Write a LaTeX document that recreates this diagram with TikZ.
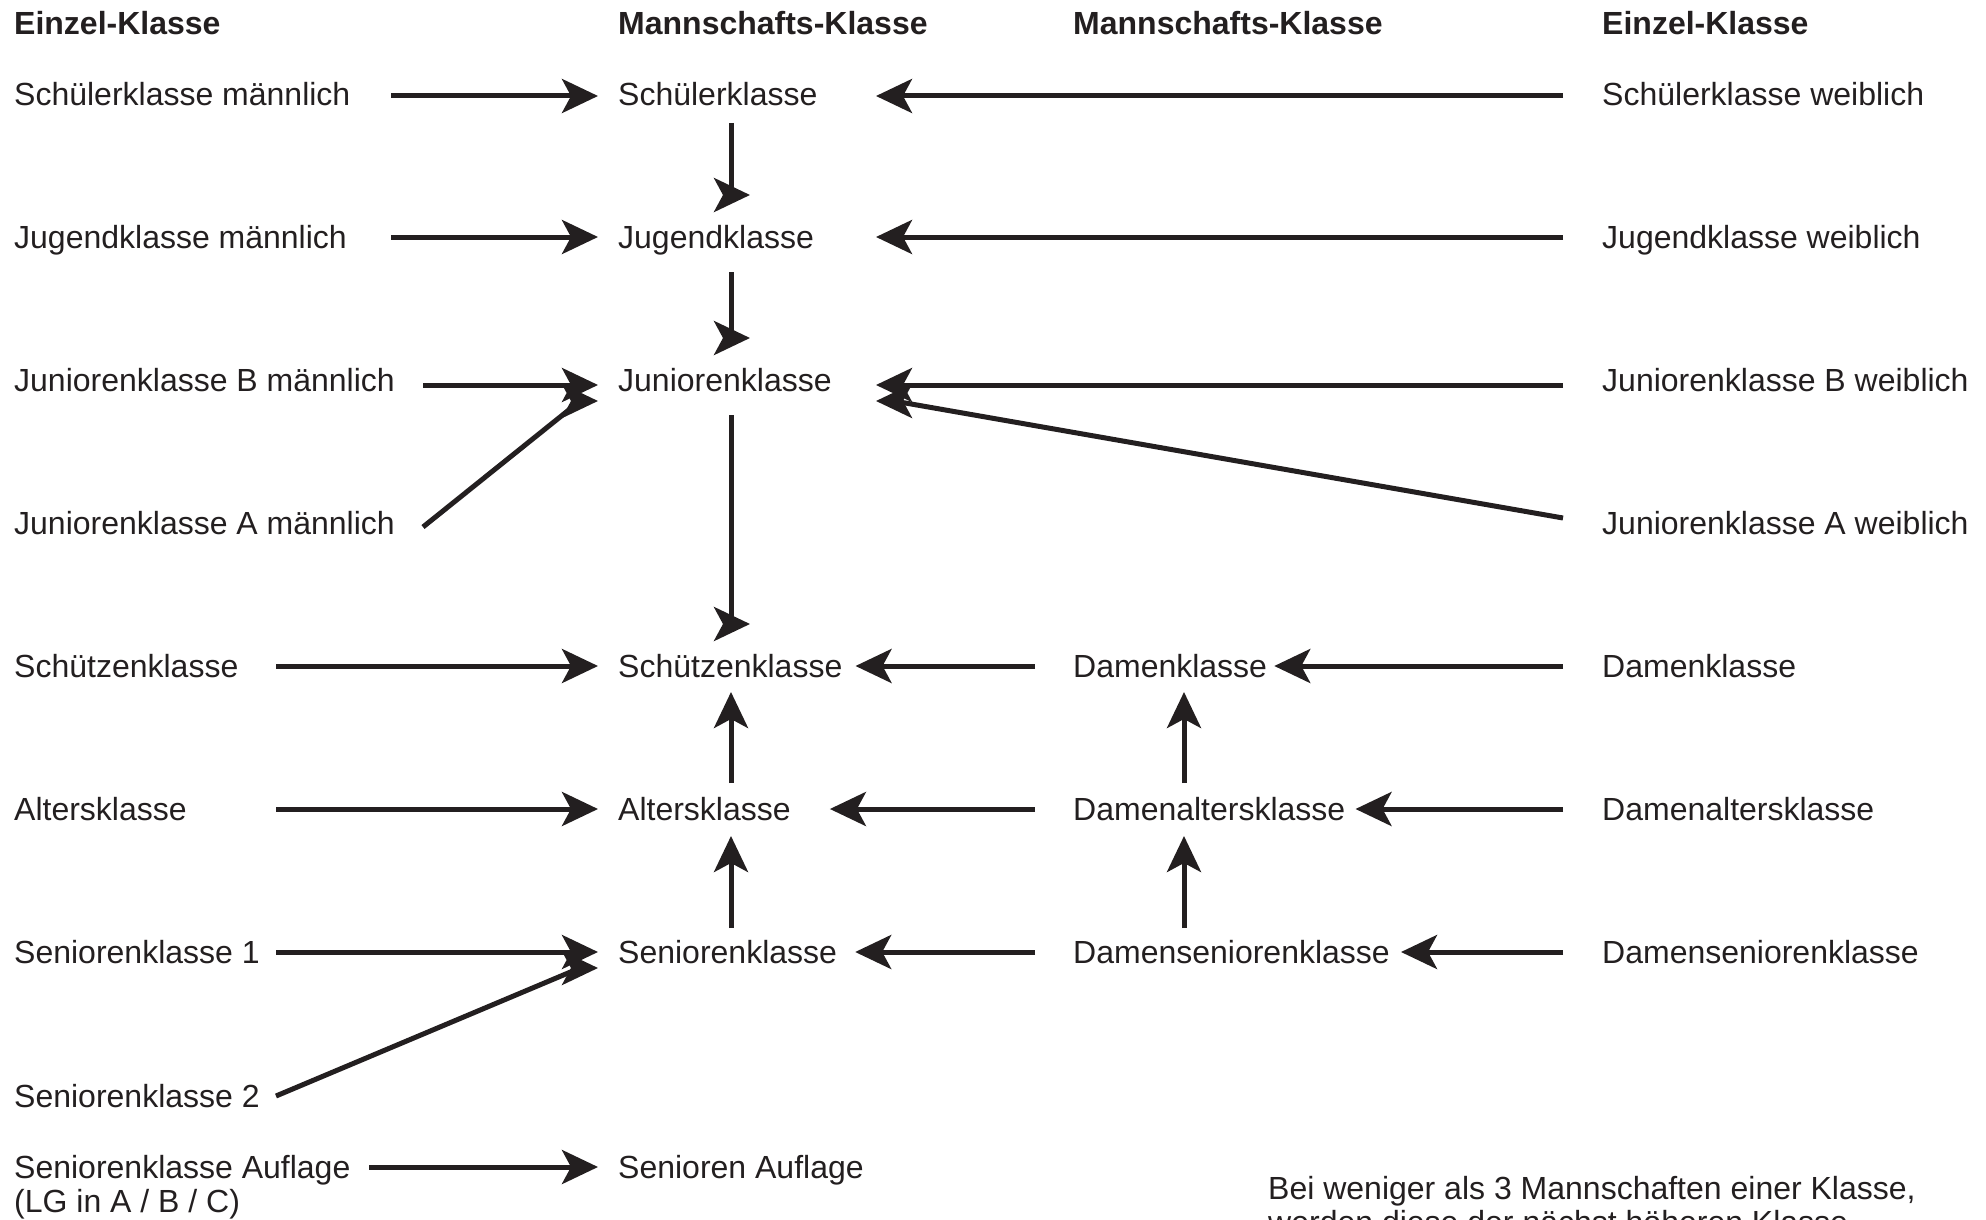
\documentclass[tikz,border=0pt]{standalone}
\usepackage{fontspec}
\setmainfont{Liberation Sans}
\usetikzlibrary{arrows.meta}
\definecolor{ink}{RGB}{35,31,32}

\begin{document}
\begin{tikzpicture}[x=1pt,y=-1pt,
  every node/.style={text=ink, font=\fontsize{32}{34}\selectfont},
  cls/.style={anchor=west, inner sep=0pt, text height=23pt, text depth=0pt},
  hd/.style={cls, font=\fontsize{32}{34}\selectfont\bfseries},
  arr/.style={draw=ink, line width=5pt, -{Stealth[length=36pt, width=34pt, inset=9pt]}}]
\useasboundingbox (0,0) rectangle (1986,1220);
\clip (0,0) rectangle (1986,1220);

% Kopfzeile
\node[hd] (h1) at (14,23) {Einzel-Klasse};
\node[hd] (h2) at (618,23) {Mannschafts-Klasse};
\node[hd] (h3) at (1073,23) {Mannschafts-Klasse};
\node[hd] (h4) at (1602,23) {Einzel-Klasse};

% Einzel-Klasse links
\node[cls] (sm) at (14,94) {Schülerklasse männlich};
\node[cls] (jm) at (14,237) {Jugendklasse männlich};
\node[cls] (jbm) at (14,380) {Juniorenklasse B männlich};
\node[cls] (jam) at (14,523) {Juniorenklasse A männlich};
\node[cls] (se) at (14,666) {Schützenklasse};
\node[cls] (ae) at (14,809) {Altersklasse};
\node[cls] (s1) at (14,952) {Seniorenklasse 1};
\node[cls] (s2) at (14,1096) {Seniorenklasse 2};
\node[anchor=north west, inner sep=0pt, align=left] (sae) at (14,1155) {Seniorenklasse Auflage\\(LG in A / B / C)};

% Mannschafts-Klasse
\node[cls] (sk) at (618,94) {Schülerklasse};
\node[cls] (jk) at (618,237) {Jugendklasse};
\node[cls] (juk) at (618,380) {Juniorenklasse};
\node[cls] (sck) at (618,666) {Schützenklasse};
\node[cls] (ak) at (618,809) {Altersklasse};
\node[cls] (sek) at (618,952) {Seniorenklasse};
\node[cls] (sak) at (618,1167) {Senioren Auflage};

% Mannschafts-Klasse Damen
\node[cls] (dk) at (1073,666) {Damenklasse};
\node[cls] (dak) at (1073,809) {Damenaltersklasse};
\node[cls] (dsk) at (1073,952) {Damenseniorenklasse};

% Einzel-Klasse rechts
\node[cls] (sw) at (1602,94) {Schülerklasse weiblich};
\node[cls] (jw) at (1602,237) {Jugendklasse weiblich};
\node[cls] (jbw) at (1602,380) {Juniorenklasse B weiblich};
\node[cls] (jaw) at (1602,523) {Juniorenklasse A weiblich};
\node[cls] (de) at (1602,666) {Damenklasse};
\node[cls] (dae) at (1602,809) {Damenaltersklasse};
\node[cls] (dse) at (1602,952) {Damenseniorenklasse};

% Hinweis
\node[anchor=north west, inner sep=0pt, align=left] (note) at (1268,1176) {Bei weniger als 3 Mannschaften einer Klasse,\\werden diese der nächst höheren Klasse};

% Spalten fuer Pfeilanfaenge
\coordinate (lA) at (391,0);
\coordinate (lB) at (423,0);
\coordinate (lC) at (276,0);
\coordinate (lD) at (369,0);
\coordinate (rA) at (1563,0);
\coordinate (hR) at (876,0);
\coordinate (mA) at (1035,0);
\coordinate (cB) at (731,0);
\coordinate (cC) at (1184,0);

% links -> Mannschaft
\draw[arr, shorten >=20pt] ([yshift=-2pt]sm -| lA) -- ([yshift=-2pt]sk.west);
\draw[arr, shorten >=20pt] (jm -| lA) -- (jk.west);
\draw[arr, shorten >=20pt] ([yshift=-5pt]jbm -| lB) -- ([yshift=-5pt]juk.west);
\draw[arr] ([yshift=-4pt]jam -| lB) -- ([xshift=-38pt,yshift=-21pt]juk.west) -- ++(18,0);
\draw[arr, shorten >=20pt] (se -| lC) -- (sck.west);
\draw[arr, shorten >=20pt] (ae -| lC) -- (ak.west);
\draw[arr, shorten >=20pt] (s1 -| lC) -- (sek.west);
\draw[arr] (s2 -| lC) -- ([xshift=-38pt,yshift=-16pt]sek.west) -- ++(18,0);
\draw[arr, shorten >=20pt] (sak -| lD) -- (sak.west);

% rechts -> Mannschaft
\draw[arr] ([yshift=-2pt]sw -| rA) -- ([yshift=-2pt]sk -| hR);
\draw[arr] (jw -| rA) -- (jk -| hR);
\draw[arr] ([yshift=-5pt]jbw -| rA) -- ([yshift=-5pt]juk -| hR);
\draw[arr] ([yshift=5pt]jaw -| rA) -- ([xshift=18pt,yshift=-21pt]juk -| hR) -- ++(-18,0);
\draw[arr, shorten >=7pt] (de -| rA) -- (dk.east);
\draw[arr, shorten >=10pt] (dae -| rA) -- (dak.east);
\draw[arr, shorten >=11pt] (dse -| rA) -- (dsk.east);

% Damen -> Mannschaft
\draw[arr, shorten >=13pt] (dk -| mA) -- (sck.east);
\draw[arr, shorten >=39pt] (dak -| mA) -- (ak.east);
\draw[arr, shorten >=18pt] (dsk -| mA) -- (sek.east);

% senkrecht
\draw[arr] ([yshift=-29pt]sk -| cB) -- ([yshift=42pt]jk -| cB) -- ++(19,0);
\draw[arr] ([yshift=-35pt]jk -| cB) -- ([yshift=42pt]juk -| cB) -- ++(19,0);
\draw[arr] ([yshift=-35pt]juk -| cB) -- ([yshift=42pt]sck -| cB) -- ++(19,0);
\draw[arr] ([yshift=26pt]ak -| cB) -- ([yshift=-26pt]sck -| cB);
\draw[arr] ([yshift=24pt]sek -| cB) -- ([yshift=-27pt]ak -| cB);
\draw[arr] ([yshift=26pt]dak -| cC) -- ([yshift=-26pt]dk -| cC);
\draw[arr] ([yshift=24pt]dsk -| cC) -- ([yshift=-27pt]dak -| cC);

\end{tikzpicture}
\end{document}
